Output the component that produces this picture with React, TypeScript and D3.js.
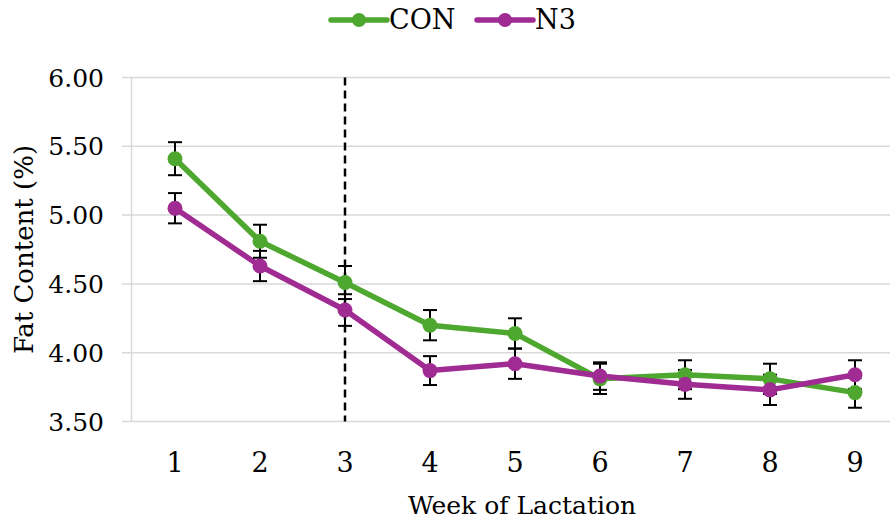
import React from "react";
import * as d3 from "d3";

const weeks = ["1", "2", "3", "4", "5", "6", "7", "8", "9"];
const conValues = [5.41, 4.81, 4.51, 4.2, 4.14, 3.81, 3.84, 3.81, 3.71];
const conErrors = [0.12, 0.12, 0.12, 0.11, 0.11, 0.11, 0.105, 0.11, 0.11];
const n3Values = [5.05, 4.63, 4.31, 3.87, 3.92, 3.83, 3.77, 3.73, 3.84];
const n3Errors = [0.11, 0.11, 0.115, 0.105, 0.11, 0.1, 0.105, 0.11, 0.105];
const yTicks = [3.5, 4.0, 4.5, 5.0, 5.5, 6.0];
const seriesNames = ["CON", "N3"];
const seriesColors = ["#4EA72E", "#A02B93"];
const markerWeek = "3";

const W = 890;
const H = 520;
const FONT = "'DejaVu Serif', serif";
const textStyle = { fontFamily: FONT };

export default function App() {
  const x = d3.scalePoint<string>().domain(weeks).range([175, 855]);
  const y = d3.scaleLinear().domain([3.5, 6.0]).range([421.5, 77.5]);
  const line = d3
    .line<number>()
    .x((_, i) => x(weeks[i]) as number)
    .y((v) => y(v));

  const series = [
    { name: seriesNames[0], values: conValues, errors: conErrors, color: seriesColors[0] },
    { name: seriesNames[1], values: n3Values, errors: n3Errors, color: seriesColors[1] },
  ];

  const left = 131.5;
  const right = 890;
  const legendX = [331, 477];

  return (
    <svg width={W} height={H} style={{ position: "absolute", left: 0, top: 0, background: "#fff", fontFamily: FONT }}>
      {/* gridlines */}
      {yTicks.map((t) => (
        <line key={t} x1={122} x2={right} y1={y(t)} y2={y(t)} stroke="#d9d9d9" strokeWidth={1.5} />
      ))}
      <line x1={left} x2={left} y1={y(6)} y2={y(3.5)} stroke="#d9d9d9" strokeWidth={1.5} />
      {/* y tick labels */}
      {yTicks.map((t) => (
        <text key={t} x={104} y={y(t)} dy="0.36em" textAnchor="end" fontSize={25} fill="#000" style={textStyle}>
          {t.toFixed(2)}
        </text>
      ))}
      {/* x tick labels */}
      {weeks.map((w) => (
        <text key={w} x={x(w)} y={472} textAnchor="middle" fontSize={27} fill="#000" style={textStyle}>
          {w}
        </text>
      ))}
      {/* axis titles */}
      <text x={522} y={514} textAnchor="middle" fontSize={25} fill="#000" style={textStyle}>
        Week of Lactation
      </text>
      <text
        transform={`translate(33,${(y(6) + y(3.5)) / 2}) rotate(-90)`}
        textAnchor="middle"
        fontSize={26}
        fill="#000"
        style={textStyle}
      >
        Fat Content (%)
      </text>
      {/* dashed vertical marker */}
      <line x1={x(markerWeek)} x2={x(markerWeek)} y1={y(6)} y2={y(3.5)} stroke="#000" strokeWidth={2.5} strokeDasharray="8,5" />
      {/* lines */}
      {series.map((s) => (
        <path key={s.name} d={line(s.values) || ""} fill="none" stroke={s.color} strokeWidth={5.5} strokeLinejoin="round" />
      ))}
      {/* error bars */}
      {series.map((s) =>
        s.values.map((v, i) => {
          const cx = x(weeks[i]) as number;
          const y1 = y(v + s.errors[i]);
          const y2 = y(v - s.errors[i]);
          return (
            <g key={s.name + i} stroke="#000" strokeWidth={2}>
              <line x1={cx} x2={cx} y1={y1} y2={y2} />
              <line x1={cx - 7} x2={cx + 7} y1={y1} y2={y1} />
              <line x1={cx - 7} x2={cx + 7} y1={y2} y2={y2} />
            </g>
          );
        })
      )}
      {/* markers */}
      {series.map((s) =>
        s.values.map((v, i) => <circle key={s.name + "m" + i} cx={x(weeks[i])} cy={y(v)} r={7.5} fill={s.color} />)
      )}
      {/* legend */}
      {series.map((s, i) => {
        const lx = legendX[i];
        return (
          <g key={s.name + "leg"}>
            <line x1={lx} x2={lx + 56} y1={20} y2={20} stroke={s.color} strokeWidth={5.5} strokeLinecap="round" />
            <circle cx={lx + 28} cy={20} r={7} fill={s.color} />
            <text x={lx + 58} y={29} fontSize={27} fill="#000" style={textStyle}>
              {s.name}
            </text>
          </g>
        );
      })}
    </svg>
  );
}
